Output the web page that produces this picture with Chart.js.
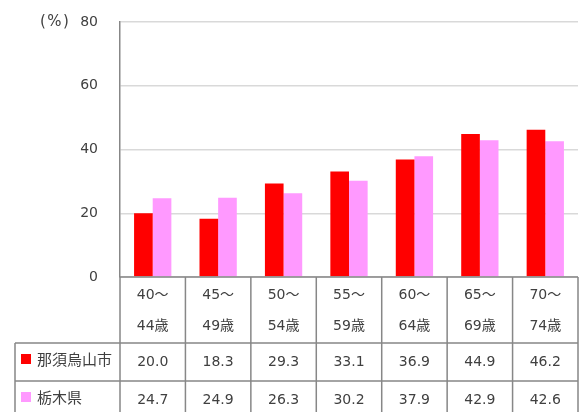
<!DOCTYPE html>
<html><head><meta charset="utf-8">
<script src="https://cdn.jsdelivr.net/npm/chart.js@4/dist/chart.umd.min.js"></script>
<style>html,body{margin:0;padding:0;background:#fff;}#wrap{width:586px;height:412px;}</style>
</head><body><div id="wrap"><canvas id="c" width="586" height="412"></canvas></div>
<script>
const categoryLines1 = ["40～","45～","50～","55～","60～","65～","70～"];
const categoryLines2 = ["44歳","49歳","54歳","59歳","64歳","69歳","74歳"];
const seriesNames = ["那須烏山市","栃木県"];
const cityValues = [20.0, 18.3, 29.3, 33.1, 36.9, 44.9, 46.2];
const prefValues = [24.7, 24.9, 26.3, 30.2, 37.9, 42.9, 42.6];
const yUnit = "(%)";

const FONT = "'DejaVu Sans','Noto Sans CJK JP',sans-serif";
const TXT = '#404040';
const LINE = '#878787';

const tablePlugin = {
  id: 'tablePlugin',
  afterDraw(chart) {
    const ctx = chart.ctx;
    const x = chart.scales.x;
    const area = chart.chartArea;
    const n = categoryLines1.length;
    const step = (area.right - area.left) / n;
    const top = area.bottom;
    const r1 = top + 66, r2 = r1 + 38, r3 = r2 + 38;
    const tableLeft = 15;
    ctx.save();
    ctx.strokeStyle = LINE;
    ctx.lineWidth = 1.5;
    ctx.beginPath();
    ctx.moveTo(area.left, top); ctx.lineTo(area.right, top);
    ctx.moveTo(tableLeft, r1); ctx.lineTo(area.right, r1);
    ctx.moveTo(tableLeft, r2); ctx.lineTo(area.right, r2);
    ctx.moveTo(tableLeft, r3); ctx.lineTo(area.right, r3);
    ctx.moveTo(tableLeft, r1); ctx.lineTo(tableLeft, r3);
    for (let i = 0; i <= n; i++) {
      const bx = area.left + i * step;
      ctx.moveTo(bx, top); ctx.lineTo(bx, r3);
    }
    ctx.stroke();
    ctx.fillStyle = TXT;
    ctx.font = "14px " + FONT;
    ctx.textAlign = 'center';
    ctx.textBaseline = 'middle';
    for (let i = 0; i < n; i++) {
      const cx = x.getPixelForValue(i);
      ctx.fillText(categoryLines1[i], cx, top + 18);
      ctx.fillText(categoryLines2[i], cx, top + 49);
      ctx.fillText(cityValues[i].toFixed(1), cx, r1 + 19);
      ctx.fillText(prefValues[i].toFixed(1), cx, r2 + 19);
    }
    ctx.textAlign = 'left';
    ctx.fillStyle = '#ff0000';
    ctx.fillRect(21, r1 + 11, 10, 10);
    ctx.fillStyle = '#ff99ff';
    ctx.fillRect(21, r2 + 11, 10, 10);
    ctx.fillStyle = TXT;
    ctx.font = "15px " + FONT;
    ctx.fillText(seriesNames[0], 37, r1 + 18);
    ctx.fillText(seriesNames[1], 37, r2 + 18);
    ctx.font = "15px " + FONT;
    ctx.letterSpacing = '1.5px';
    ctx.textAlign = 'left';
    ctx.fillText(yUnit, 40, area.top);
    ctx.restore();
  }
};

new Chart(document.getElementById('c'), {
  type: 'bar',
  data: {
    labels: categoryLines1.map((a, i) => a + categoryLines2[i]),
    datasets: [
      { label: seriesNames[0], data: cityValues, backgroundColor: '#ff0000', categoryPercentage: 0.57, barPercentage: 1.0 },
      { label: seriesNames[1], data: prefValues, backgroundColor: '#ff99ff', categoryPercentage: 0.57, barPercentage: 1.0 }
    ]
  },
  options: {
    responsive: false,
    animation: false,
    layout: { padding: { left: 0, right: 8, top: 22, bottom: 135 } },
    plugins: { legend: { display: false }, tooltip: { enabled: false } },
    scales: {
      x: { display: false },
      y: {
        min: 0, max: 80,
        ticks: { stepSize: 20, color: TXT, font: { family: FONT, size: 14 }, padding: 22 },
        grid: { color: '#d9d9d9', lineWidth: 1.5, drawTicks: false },
        border: { color: LINE, width: 1.5 },
        afterFit(s) { s.width = 120; s.paddingTop = 0; s.paddingBottom = 0; }
      }
    }
  },
  plugins: [tablePlugin]
});
</script></body></html>
